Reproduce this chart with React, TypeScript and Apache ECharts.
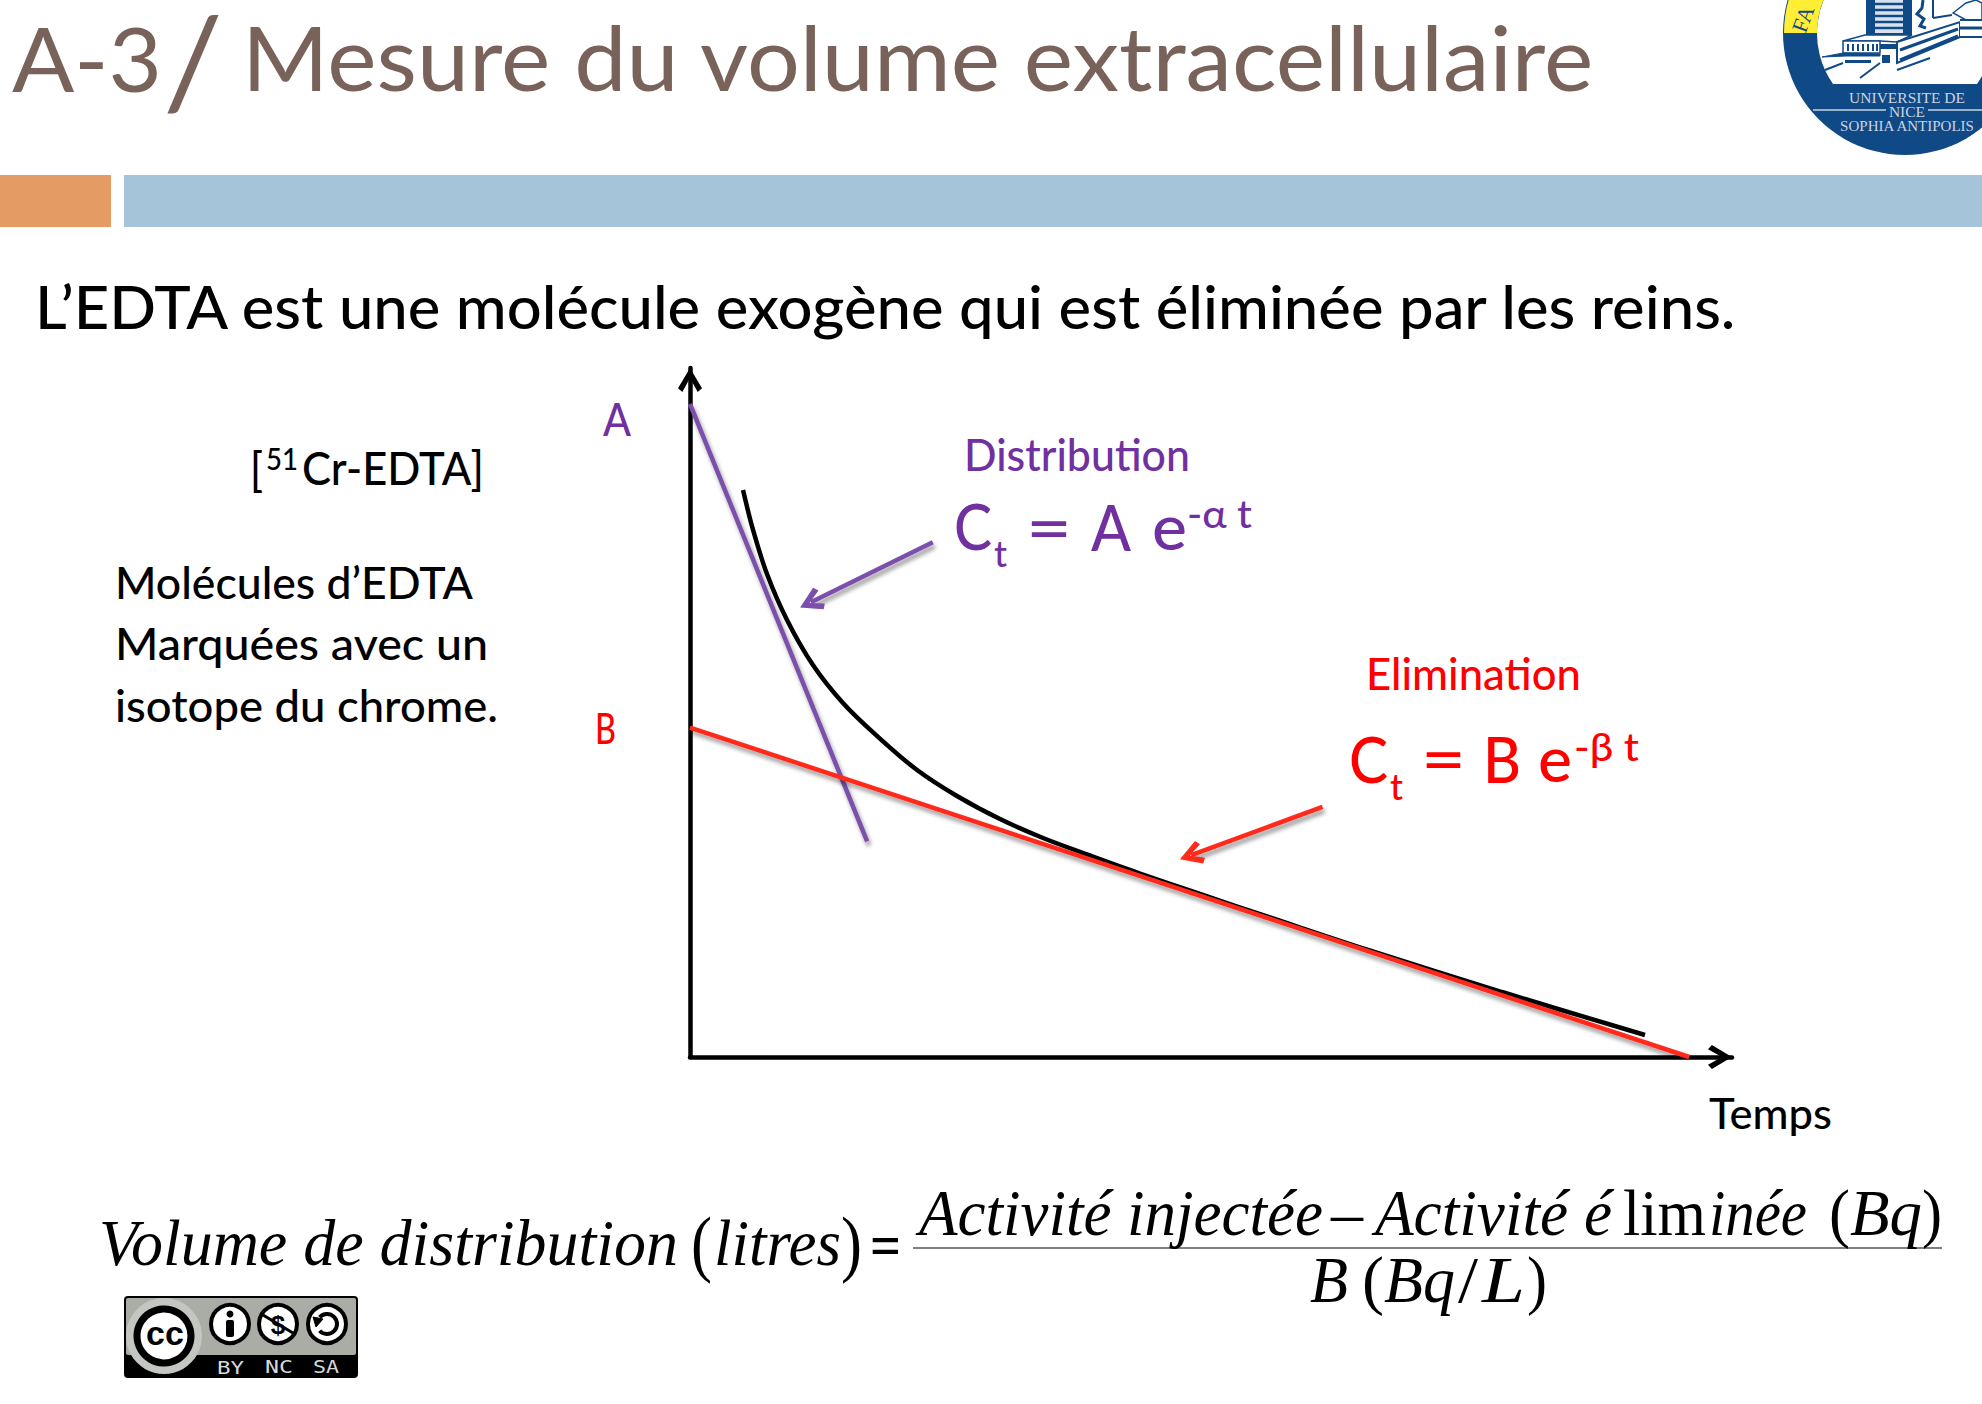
import React, { useEffect, useRef } from "react";
import * as echarts from "echarts";

// Curves (time, concentration, arbitrary axis units)
const measuredCurve: number[][] = [
  [5.09, 82.29], [6.05, 76.49], [7.39, 70.1], [9.31, 63.43], [11.8, 56.89], [14.68, 51.38], [17.95, 46.59],
  [21.79, 41.65], [25.62, 37.88], [29.75, 34.54], [33.88, 31.79], [38.39, 29.25], [43.19, 26.63], [48.94, 23.66],
  [55.66, 20.25], [65.07, 15.53], [77.93, 9.43], [91.65, 3.19],
];
const distributionLine: number[][] = [[0, 94.8], [17.0, 31.3]];
const eliminationLine: number[][] = [[0, 47.8], [95.9, 0]];
const distributionArrow: number[][] = [[23.3, 74.7], [11.6, 66.0]];
const eliminationArrow: number[][] = [[60.7, 36.3], [48.1, 29.3]];

const titleParts = ["A-3", "/", "Mesure du volume extracellulaire"];
const subtitle = "L\u2019EDTA est une molécule exogène qui est éliminée par les reins.";
const sideNote = ["Molécules d\u2019EDTA", "Marquées avec un", "isotope du chrome."];
const yAxisName = ["[", "51", "Cr-EDTA]"];
const xAxisName = "Temps";
const distEq = ["Distribution", "C", "t", "=", "A", "e", "-\u03b1 t", "A"];
const elimEq = ["Elimination", "C", "t", "=", "B", "e", "-\u03b2 t", "B"];
const volumeLabel = ["Volume de distribution", "(", "litres", ")", "="];
const numerator = ["Activité injectée", "\u2013", "Activité é", "lim", "inée", "(", "Bq", ")"];
const denominator = ["B", "(", "Bq", "/", "L", ")"];
const logoLines = ["UNIVERSITE DE", "NICE", "SOPHIA ANTIPOLIS", "FA"];
const ccLabels = ["BY", "NC", "SA"];

const PURPLE = "#7030A0";
const RED = "#FF0000";
const BROWN = "#78625A";
const LOGO = "#104A86";
const SANS = "Lato";
const SERIF = "Liberation Serif";

const measure = (text: string, font: string) => {
  const c = document.createElement("canvas").getContext("2d")!;
  c.font = font;
  return c.measureText(text).width;
};

// text placed by its baseline, stretched to the width it has in the reference
const fit = (
  text: string, x0: number, x1: number, baseline: number, size: number, fill: string,
  family = SANS, fontStyle = "normal", fontWeight: string | undefined = undefined,
) => {
  const weight = fontWeight ?? (family === SANS && size < 80 ? "500" : "normal");
  const w = measure(text, `${fontStyle} ${weight} ${size}px "${family}"`);
  return {
    type: "text", x: x0, y: baseline - size * (family === SANS ? 0.38 : 0.31), scaleX: (x1 - x0) / w, z: 10,
    style: { text, fill, fontSize: size, fontFamily: family, fontStyle, fontWeight: weight, align: "left", verticalAlign: "middle" },
  };
};
const center = (text: string, x: number, y: number, size: number, fill: string, family = SERIF, fontWeight = "normal") => ({
  type: "text", x, y, z: 12,
  style: { text, fill, fontSize: size, fontFamily: family, fontWeight, align: "center", verticalAlign: "middle" },
});
const rect = (x: number, y: number, width: number, height: number, fill: string, r = 0, z = 5) => ({
  type: "rect", z, shape: { x, y, width, height, r }, style: { fill },
});
const seg = (x1: number, y1: number, x2: number, y2: number, stroke: string, lineWidth = 2, z = 8) => ({
  type: "line", z, shape: { x1, y1, x2, y2 }, style: { stroke, lineWidth },
});
const circle = (cx: number, cy: number, r: number, fill: string, z = 6, stroke?: string, lineWidth = 0) => ({
  type: "circle", z, shape: { cx, cy, r }, style: { fill, stroke, lineWidth },
});
const poly = (points: number[][], fill: string, stroke: string, lineWidth = 1.5, z = 8) => ({
  type: "polygon", z, shape: { points }, style: { fill, stroke, lineWidth },
});

const CHEVRON = "path://M5,0 L10,8.4 L8.2,10 L5,4.2 L1.8,10 L0,8.4 Z";
const ARROWHEAD = "path://M5,0 L10,8.5 L8,10 L5,4.4 L2,10 L0,8.5 Z";
const shadow = { shadowBlur: 4, shadowColor: "rgba(0,0,0,0.4)", shadowOffsetX: 2, shadowOffsetY: 4 };

const arrowMark = (pts: number[][], color: string) => ({
  silent: true,
  animation: false,
  symbol: ["none", ARROWHEAD],
  symbolSize: 24,
  symbolOffset: [0, 0],
  label: { show: false },
  emphasis: { disabled: true },
  lineStyle: { color, width: 4.5, type: "solid", ...shadow },
  data: [[{ coord: pts[0] }, { coord: pts[1] }]],
});

export default function App() {
  const ref = useRef<HTMLDivElement>(null);
  useEffect(() => {
    if (!ref.current) return;
    echarts.graphic.registerShape("logoChord", echarts.graphic.extendPath("M1833,84 A88,88 0 1 1 1977,84 Z", {}) as any);
    const chart = echarts.init(ref.current, undefined, { renderer: "svg" });
    const axisBase = { type: "value", min: 0, max: 100, axisLabel: { show: false }, axisTick: { show: false }, splitLine: { show: false } };
    const axisLine = { show: true, onZero: false, symbol: ["none", CHEVRON], symbolSize: [26, 24], symbolOffset: [0, -12], lineStyle: { color: "#000", width: 4.5 } };
    const lineSeries = (data: number[][], color: string, extra: object = {}) => ({
      type: "line", data, showSymbol: false, symbol: "none", animation: false, silent: true,
      lineStyle: { color, width: 4.5 }, ...extra,
    });
    chart.setOption({
      animation: false,
      backgroundColor: "#fff",
      grid: { left: 690, right: 250, top: 368, bottom: 347 },
      xAxis: { ...axisBase, axisLine },
      yAxis: { ...axisBase, axisLine },
      series: [
        lineSeries(measuredCurve, "#000", { smooth: 0.35 }),
        lineSeries(distributionLine, "#7B4FAB", {
          lineStyle: { color: "#7B4FAB", width: 4.5, ...shadow },
          markLine: arrowMark(distributionArrow, "#7B4FAB"),
        }),
        lineSeries(eliminationLine, "#FF2A1A", {
          lineStyle: { color: "#FF2A1A", width: 4.5, ...shadow },
          markLine: arrowMark(eliminationArrow, "#FF2A1A"),
        }),
      ],
      graphic: { elements: [
        // header bars
        rect(0, 175, 111, 52, "#E49B64"),
        rect(124, 175, 1858, 52, "#A5C3D9"),
        // title
        fit(titleParts[0], 12, 162, 91, 90, BROWN),
        { ...fit(titleParts[1], 163, 223, 104.5, 118, BROWN, SANS, "normal", "normal"), scaleY: 1.07 },
        fit(titleParts[2], 242, 1595, 91, 90, BROWN),
        fit(subtitle, 35, 1739, 329, 60, "#000"),
        // left notes
        fit(yAxisName[0], 250, 263, 485, 46, "#000"),
        fit(yAxisName[1], 266, 298, 470, 30, "#000"),
        fit(yAxisName[2], 302, 484, 485, 46, "#000"),
        fit(sideNote[0], 115, 473, 599, 45, "#000"),
        fit(sideNote[1], 115, 488, 660, 45, "#000"),
        fit(sideNote[2], 115, 498, 722, 45, "#000"),
        // axis annotations
        fit(distEq[7], 603, 631, 436, 46, PURPLE),
        fit(elimEq[7], 595, 616, 744, 42, RED),
        fit(xAxisName, 1709, 1832, 1129, 42, "#000"),
        // distribution
        fit(distEq[0], 964, 1190, 470, 44, PURPLE),
        fit(distEq[1], 954, 992, 550, 64, PURPLE),
        fit(distEq[2], 994, 1007, 567, 36, PURPLE),
        fit(distEq[3], 1026, 1072, 550, 64, PURPLE),
        fit(distEq[4], 1091, 1131, 550, 64, PURPLE),
        fit(distEq[5], 1152, 1187, 550, 64, PURPLE),
        fit(distEq[6], 1187, 1252, 528, 38, PURPLE),
        // elimination
        fit(elimEq[0], 1366, 1581, 690, 44, RED),
        fit(elimEq[1], 1349, 1388, 782, 64, RED),
        fit(elimEq[2], 1390, 1403, 800, 36, RED),
        fit(elimEq[3], 1421, 1466, 782, 64, RED),
        fit(elimEq[4], 1483, 1521, 782, 64, RED),
        fit(elimEq[5], 1538, 1572, 782, 64, RED),
        fit(elimEq[6], 1574, 1639, 761, 38, RED),
        // formula
        fit(volumeLabel[0], 99, 678, 1263, 65, "#000", SERIF, "italic"),
        fit(volumeLabel[1], 691, 712, 1266, 74, "#000", SERIF),
        fit(volumeLabel[2], 714, 841, 1263, 65, "#000", SERIF, "italic"),
        fit(volumeLabel[3], 841, 862, 1266, 74, "#000", SERIF),
        fit(volumeLabel[4], 870, 901, 1263, 60, "#000", SERIF, "normal", "bold"),
        seg(913, 1248, 1942, 1248, "#555", 1.5),
        fit(numerator[0], 919, 1323, 1233, 65, "#000", SERIF, "italic"),
        fit(numerator[1], 1331, 1363, 1233, 65, "#000", SERIF),
        fit(numerator[2], 1375, 1612, 1233, 65, "#000", SERIF, "italic"),
        fit(numerator[3], 1623, 1706, 1233, 65, "#000", SERIF),
        fit(numerator[4], 1709, 1807, 1233, 65, "#000", SERIF, "italic"),
        fit(numerator[5], 1829, 1850, 1233, 65, "#000", SERIF),
        fit(numerator[6], 1850, 1922, 1233, 65, "#000", SERIF, "italic"),
        fit(numerator[7], 1922, 1942, 1233, 65, "#000", SERIF),
        fit(denominator[0], 1310, 1348, 1300, 65, "#000", SERIF, "italic"),
        fit(denominator[1], 1362, 1384, 1300, 65, "#000", SERIF),
        fit(denominator[2], 1384, 1455, 1300, 65, "#000", SERIF, "italic"),
        fit(denominator[3], 1458, 1478, 1300, 65, "#000", SERIF),
        fit(denominator[4], 1482, 1525, 1300, 65, "#000", SERIF, "italic"),
        fit(denominator[5], 1527, 1547, 1300, 65, "#000", SERIF),
        // faculty logo
        circle(1905, 33, 122, LOGO, 4),
        { type: "logoChord", z: 5, style: { fill: "#fff" } },
        { type: "sector", z: 6, shape: { cx: 1905, cy: 33, r: 121, r0: 88, startAngle: Math.PI, endAngle: Math.PI + 0.4, clockwise: true }, style: { fill: "#FFEE33" } },
        { type: "text", z: 9, x: 1803, y: 19, rotation: 1.22, style: { text: logoLines[3], fill: LOGO, fontSize: 22, fontFamily: SERIF, align: "center", verticalAlign: "middle" } },
        rect(1866, 0, 46, 35, LOGO, 0, 7),
        rect(1875, 0, 28, 33, "#D7E2EE", 0, 7),
        ...[4, 10, 16, 22, 28].map((y) => seg(1875, y, 1903, y, LOGO, 2.5)),
        poly([[1843, 41], [1865, 35], [1912, 35], [1897, 42], [1880, 41]], "#fff", LOGO, 1.5, 6),
        poly([[1843, 41], [1880, 41], [1880, 53], [1843, 53]], "#fff", LOGO),
        ...[1848, 1853, 1858, 1863, 1868, 1873, 1877].map((x) => seg(x, 44, x, 51, LOGO, 2)),
        rect(1880, 44, 17, 5, LOGO, 0, 8),
        rect(1882, 55, 8, 8, LOGO, 0, 8),
        poly([[1897, 42], [1960, 22], [1960, 37], [1897, 63]], "#fff", LOGO, 2),
        seg(1900, 50, 1958, 29, LOGO, 3),
        seg(1900, 60, 1958, 36, LOGO, 3),
        poly([[1822, 57], [1843, 53], [1880, 54], [1880, 56], [1846, 56]], LOGO, LOGO, 1),
        rect(1845, 60, 26, 3, LOGO, 0, 8),
        seg(1825, 70, 1843, 63, LOGO, 2),
        seg(1860, 78, 1880, 63, LOGO, 2),
        seg(1897, 70, 1930, 58, LOGO, 2),
        seg(1933, 0, 1933, 18, LOGO, 2),
        seg(1933, 18, 1952, 15, LOGO, 2),
        { type: "polyline", z: 8, shape: { points: [[1923, 0], [1922, 8], [1917, 14], [1924, 19], [1920, 26], [1926, 28]] }, style: { stroke: LOGO, lineWidth: 3, fill: "none" } },
        poly([[1953, 13], [1966, 3], [1976, 0], [1982, 3], [1982, 20], [1966, 20]], "#fff", LOGO, 1.5),
        rect(1960, 20, 22, 17, "#fff", 0, 8),
        seg(1960, 20, 1982, 20, LOGO, 2),
        seg(1960, 28, 1982, 28, LOGO, 3),
        seg(1960, 37, 1982, 37, LOGO, 2),
        center(logoLines[0], 1907, 97, 15.5, "#C9D4E3"),
        center(logoLines[1], 1907, 111, 15.5, "#C9D4E3"),
        center(logoLines[2], 1907, 126, 15, "#C9D4E3"),
        seg(1813, 110, 1886, 110, "#C9D4E3", 1.5),
        seg(1928, 110, 1982, 110, "#C9D4E3", 1.5),
        // licence badge
        rect(124, 1296, 234, 82, "#000", 4, 5),
        rect(126, 1298, 230, 57, "#AAADA6", 2, 6),
        circle(164, 1336, 38, "#C4C6C1", 6),
        circle(164, 1336, 27, "#fff", 7, "#000", 7),
        center("cc", 165, 1333, 34, "#000", "Liberation Sans", "bold"),
        ...[230, 278, 327].map((cx) => circle(cx, 1324, 19, "#fff", 7, "#000", 4)),
        circle(230, 1314, 3.5, "#000", 9),
        rect(226, 1320, 8, 17, "#000", 2, 9),
        center("$", 278, 1325, 26, "#000", "Liberation Sans", "bold"),
        seg(263, 1315, 293, 1333, "#000", 3, 13),
        { type: "arc", z: 9, shape: { cx: 327, cy: 1324, r: 10, startAngle: -2.4, endAngle: 2.4, clockwise: true }, style: { stroke: "#000", lineWidth: 4, fill: "none" } },
        poly([[313, 1317], [323, 1319], [316, 1327]], "#000", "#000", 1, 9),
        fit(ccLabels[0], 217, 244, 1373, 18, "#D8D8D8", "DejaVu Sans Mono"),
        fit(ccLabels[1], 265, 293, 1373, 18, "#D8D8D8", "DejaVu Sans Mono"),
        fit(ccLabels[2], 313, 339, 1373, 18, "#D8D8D8", "DejaVu Sans Mono"),
      ] },
    } as any);
    return () => chart.dispose();
  }, []);
  return <div ref={ref} style={{ position: "absolute", left: 0, top: 0, width: 1982, height: 1404 }} />;
}
